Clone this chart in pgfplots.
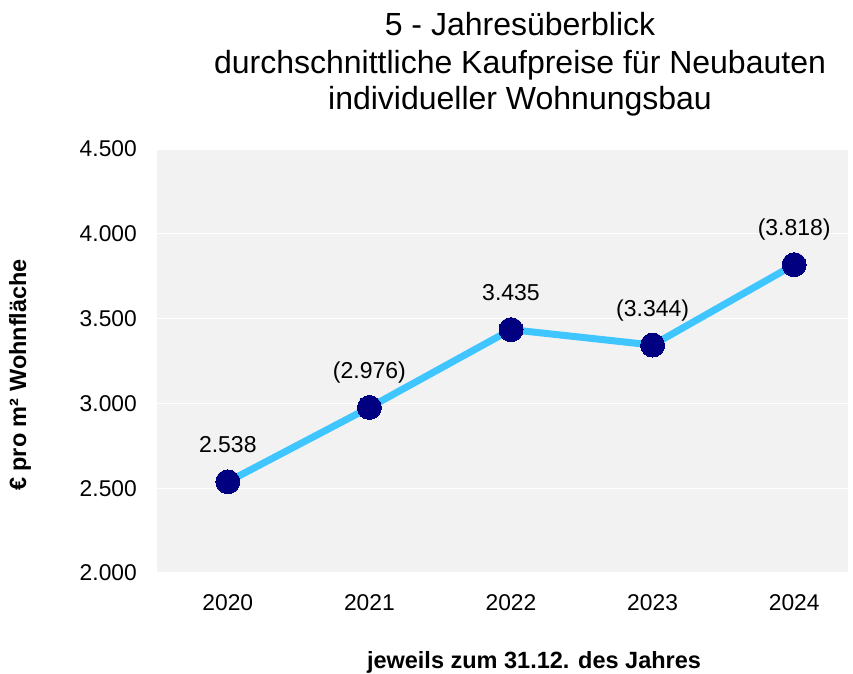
\documentclass[border=0pt]{standalone}
\usepackage{pgfplots}
\pgfplotsset{compat=1.18}
\usepackage{fontspec}
\setmainfont{Liberation Sans}
\definecolor{bg}{HTML}{F2F2F2}
\definecolor{linec}{HTML}{3FC5FF}
\definecolor{markc}{HTML}{000080}
\begin{document}
\begin{tikzpicture}[x=1pt,y=1pt]
\useasboundingbox (0,0) rectangle (853,673);
\begin{axis}[
  at={(157pt,100pt)}, anchor=south west,
  scale only axis, width=691pt, height=424pt,
  xmin=-0.5, xmax=4.38, ymin=2000, ymax=4500,
  xtick={0,1,2,3,4}, xticklabels={2020,2021,2022,2023,2024},
  ytick={2000,2500,3000,3500,4000,4500},
  /pgf/number format/.cd, 1000 sep={.}, assume math mode=true, /pgfplots/.cd,
  ymajorgrids, major grid style={white, line width=1.2pt},
  axis background/.style={fill=bg},
  axis line style={draw=none}, tick style={draw=none},
  tick label style={font=\fontsize{22.8}{26}\selectfont, inner sep=0pt},
  yticklabel style={anchor=east, xshift=-20pt},
  xticklabel style={anchor=north, yshift=-21pt},
  clip=false,
]
\addplot[color=linec, line width=7pt, mark=*, mark size=12pt,
  mark options={fill=markc, draw=markc, line width=0pt},
  point meta=explicit symbolic,
  nodes near coords,
  every node near coord/.style={anchor=base, inner sep=0pt, yshift=29pt, text=black, font=\fontsize{23}{26}\selectfont}]
  coordinates {(0,2538) [2.538] (1,2976) [(2.976)] (2,3435) [3.435] (3,3344) [(3.344)] (4,3818) [(3.818)]};
\end{axis}
\node[anchor=base, font=\fontsize{32}{36}\selectfont, inner sep=0pt] at (520,637) {5 - Jahresüberblick};
\node[anchor=base, font=\fontsize{32}{36}\selectfont, inner sep=0pt] at (520,599) {durchschnittliche Kaufpreise für Neubauten};
\node[anchor=base, font=\fontsize{32}{36}\selectfont, inner sep=0pt] at (520,563) {individueller Wohnungsbau};
\node[rotate=90, font=\bfseries\fontsize{23.5}{26}\selectfont, inner sep=0pt] at (20,298) {€ pro m² Wohnfläche};
\node[font=\bfseries\fontsize{23.5}{26}\selectfont, inner sep=0pt] at (534,11) {jeweils zum 31.12. des Jahres};
\end{tikzpicture}
\end{document}
